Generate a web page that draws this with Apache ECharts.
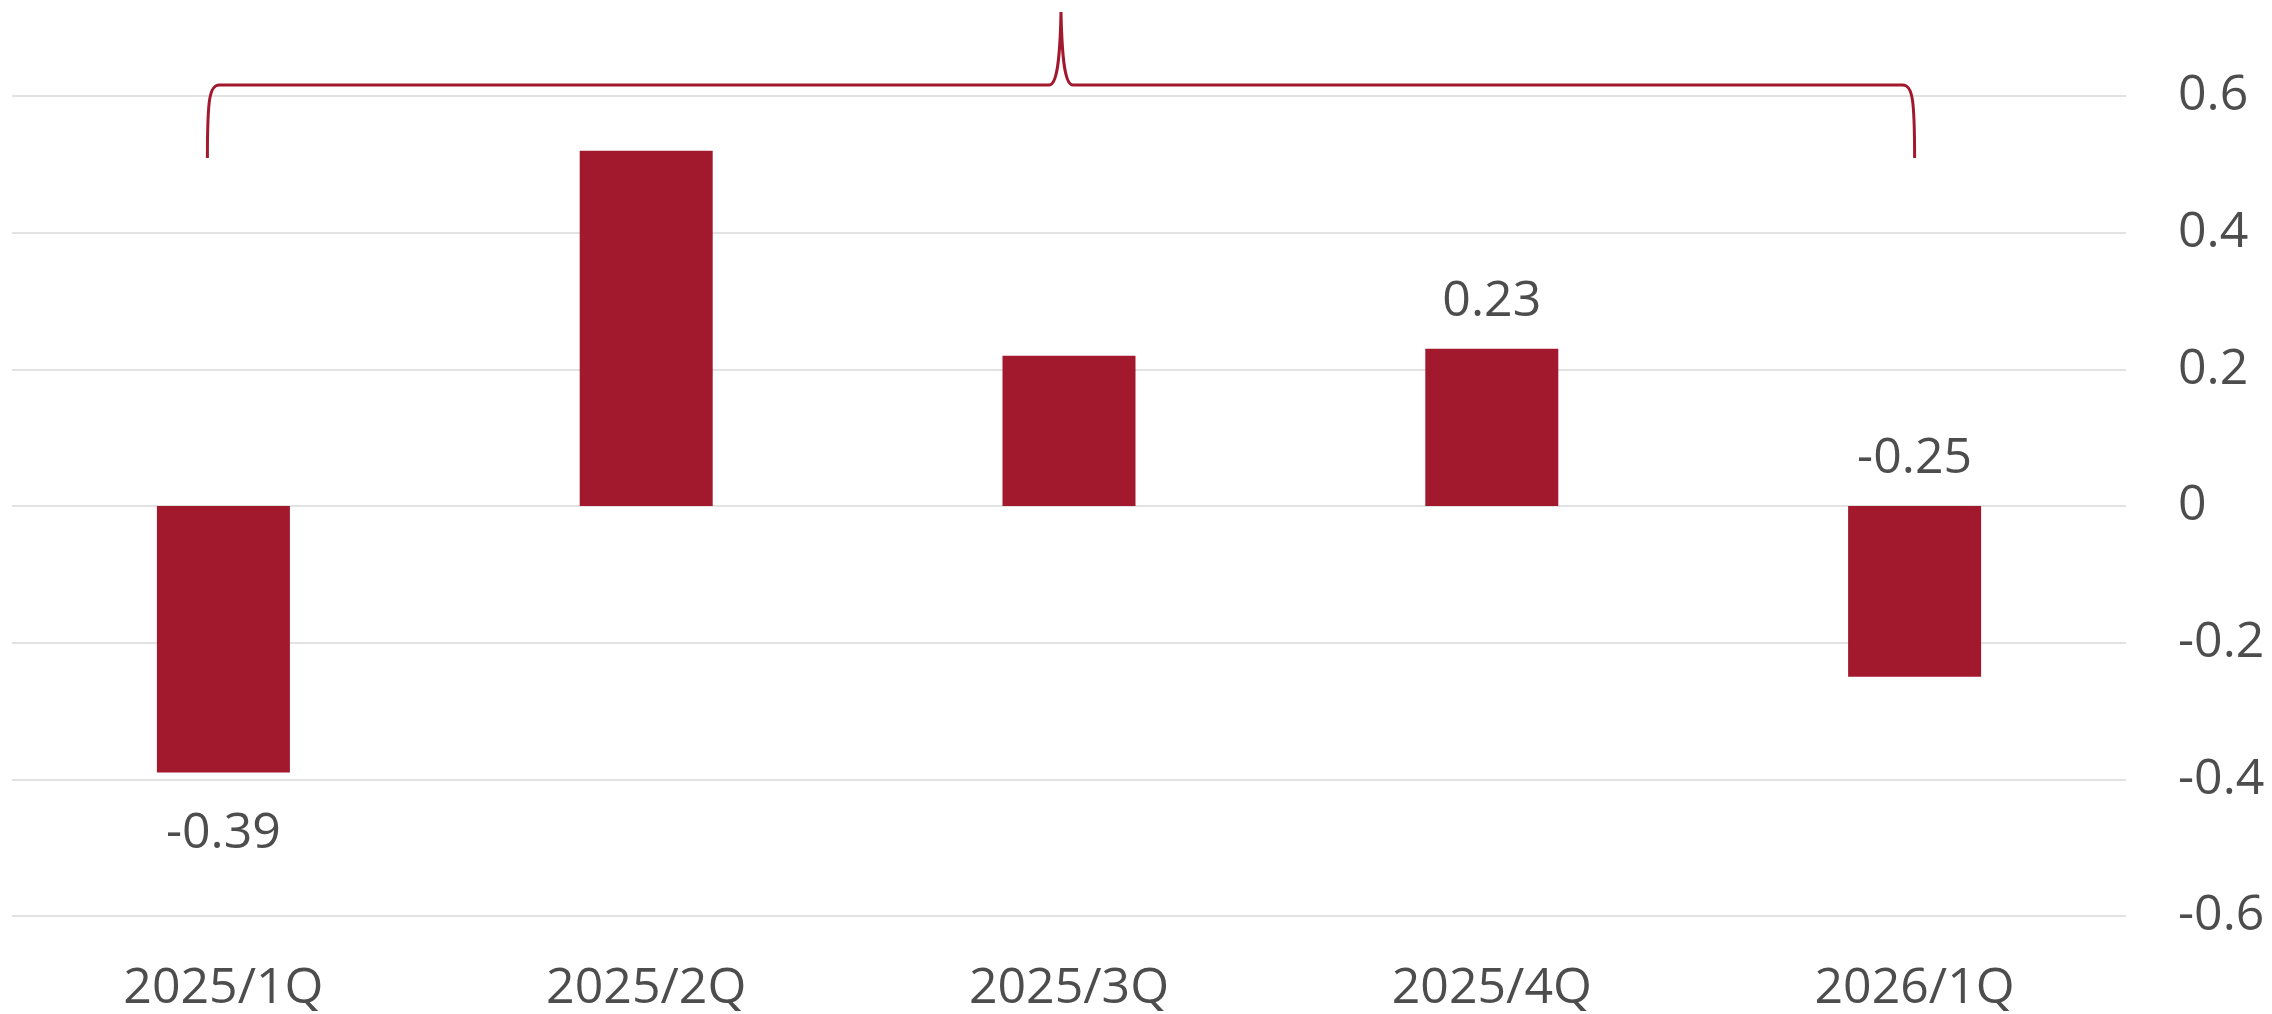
<!DOCTYPE html>
<html>
<head>
<meta charset="utf-8">
<script src="https://cdn.jsdelivr.net/npm/echarts@6/dist/echarts.min.js"></script>
<style>
  html, body { margin: 0; padding: 0; background: #fff; }
  #chart { width: 2272px; height: 1014px; }
</style>
</head>
<body>
<div id="chart"></div>
<script>
// 数据
var quarters = ['2025/1Q', '2025/2Q', '2025/3Q', '2025/4Q', '2026/1Q'];
var values = [-0.39, 0.52, 0.22, 0.23, -0.25];
var yTicks = [-0.6, -0.4, -0.2, 0, 0.2, 0.4, 0.6];

var RED = '#a2192e';
var TEXT = '#4d4d4d';
var FONT = 'Open Sans';

// 只有部分柱子有标签
var labelPos = { 0: 'bottom', 3: 'top', 4: 'top' };

// 大括号形状
echarts.graphic.registerShape('brace', echarts.graphic.extendShape({
    shape: { xL: 0, xR: 0, yH: 0, yEnd: 0, yTip: 0 },
    buildPath: function (ctx, s) {
        var xM = (s.xL + s.xR) / 2;
        ctx.moveTo(s.xL, s.yEnd);
        ctx.bezierCurveTo(s.xL, s.yH + 14, s.xL + 2, s.yH, s.xL + 12, s.yH);
        ctx.lineTo(xM - 12, s.yH);
        ctx.bezierCurveTo(xM - 4, s.yH, xM - 1, s.yH - 25, xM, s.yTip);
        ctx.bezierCurveTo(xM + 1, s.yH - 25, xM + 4, s.yH, xM + 12, s.yH);
        ctx.lineTo(s.xR - 12, s.yH);
        ctx.bezierCurveTo(s.xR - 2, s.yH, s.xR, s.yH + 14, s.xR, s.yEnd);
    }
}));

var chart = echarts.init(document.getElementById('chart'));

var barData = values.map(function (v, i) {
    var item = { value: v };
    if (labelPos[i]) {
        item.label = {
            show: true,
            position: labelPos[i],
            distance: labelPos[i] === 'bottom' ? 36 : 22
        };
    }
    return item;
});

var option = {
    animation: false,
    grid: {
        left: 12,
        right: 146,
        top: 96,
        bottom: 97
    },
    xAxis: {
        type: 'category',
        data: quarters,
        axisLine: { show: false },
        axisTick: { show: false },
        axisLabel: {
            color: TEXT,
            fontFamily: FONT,
            fontSize: 50,
            margin: 48
        }
    },
    yAxis: {
        type: 'value',
        position: 'right',
        min: yTicks[0],
        max: yTicks[yTicks.length - 1],
        interval: 0.2,
        axisLine: { show: false },
        axisTick: { show: false },
        splitLine: { lineStyle: { color: '#e2e2e2', width: 2 } },
        axisLabel: {
            color: TEXT,
            fontFamily: FONT,
            fontSize: 50,
            margin: 52,
            align: 'left',
            formatter: function (v) {
                return String(Math.round(v * 10) / 10);
            }
        }
    },
    series: [
        {
            type: 'bar',
            data: barData,
            barWidth: 133,
            itemStyle: { color: RED },
            label: {
                show: false,
                color: TEXT,
                fontFamily: FONT,
                fontSize: 50
            }
        }
    ]
};

chart.setOption(option);

// 顶部的大括号，位置跟随坐标轴
function drawBrace() {
    var p0 = chart.convertToPixel({ xAxisIndex: 0, yAxisIndex: 0 }, [0, 0.6]);
    var p4 = chart.convertToPixel({ xAxisIndex: 0, yAxisIndex: 0 }, [quarters.length - 1, 0.6]);
    var yH = p0[1] - 11;
    chart.setOption({
        graphic: [{
            type: 'brace',
            id: 'brace',
            shape: {
                xL: p0[0] - 16,
                xR: p4[0],
                yH: yH,
                yEnd: yH + 73,
                yTip: yH - 73
            },
            style: { stroke: RED, fill: null, lineWidth: 3 },
            silent: true
        }]
    });
}
drawBrace();

window.addEventListener('resize', function () {
    chart.resize();
    drawBrace();
});
</script>
</body>
</html>
